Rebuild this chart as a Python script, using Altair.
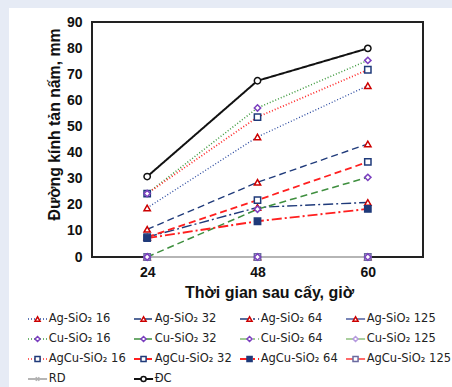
import altair as alt
import pandas as pd

times = ["24", "48", "60"]
series = ["Ag-SiO₂ 16", "Ag-SiO₂ 32", "Ag-SiO₂ 64", "Ag-SiO₂ 125",
          "Cu-SiO₂ 16", "Cu-SiO₂ 32", "Cu-SiO₂ 64", "Cu-SiO₂ 125",
          "AgCu-SiO₂ 16", "AgCu-SiO₂ 32", "AgCu-SiO₂ 64", "AgCu-SiO₂ 125",
          "RD", "ĐC"]

ag16 = [18.8, 46.0, 65.6]
ag32 = [10.6, 28.6, 43.3]
ag64 = [7.6, 19.0, 20.9]
ag125 = [0, 0, 0]
cu16 = [24.3, 57.1, 75.3]
cu32 = [0, 18.3, 30.5]
cu64 = [0, 0, 0]
cu125 = [0, 0, 0]
agcu16 = [24.3, 53.6, 71.7]
agcu32 = [7.6, 21.8, 36.4]
agcu64 = [7.2, 13.7, 18.4]
agcu125 = [0, 0, 0]
rd = [0, 0, 0]
dc = [30.8, 67.5, 79.9]

all_vals = [ag16, ag32, ag64, ag125, cu16, cu32, cu64, cu125,
            agcu16, agcu32, agcu64, agcu125, rd, dc]

# draw order of lines (RD first so the red zero line stays on top)
line_order = [12, 0, 1, 2, 3, 4, 5, 6, 7, 8, 9, 10, 11, 13]
# draw order of markers (purple diamond / blue square on top at zero)
mark_order = [12, 3, 7, 11, 0, 1, 2, 8, 9, 10, 4, 5, 6, 13]
rows = []
for i in range(len(series)):
    for t, v in zip(times, all_vals[i]):
        rows.append({"series": series[i], "time": t, "value": v,
                     "lord": line_order.index(i), "mord": mark_order.index(i)})
df = pd.DataFrame(rows)

leg = pd.DataFrame({"series": series, "idx": list(range(len(series)))})
leg["col"] = leg["idx"] % 4
leg["row"] = leg["idx"] // 4

# styles
line_colors = ["#2b4aa0", "#1f3a7a", "#1f3a7a", "#4d5ea0",
               "#3f9a3f", "#3f8f3f", "#7fb86f", "#8fc07f",
               "#ff2a2a", "#ff2020", "#ff2020", "#ff6a6a",
               "#b5b5b5", "#111111"]
dot, dash, dashdot, solid = [1, 2], [7, 4], [10, 3, 2, 3], [1, 0]
dashes = [dot, dash, dashdot, solid, dot, dash, dashdot, solid,
          dot, dash, dashdot, solid, solid, solid]
widths = [1.3, 2, 2, 1.5, 1.3, 2, 2, 1.5, 1.3, 2, 2, 1.5, 1.5, 2]
mk_stroke = ["#cc0000"] * 4 + ["#7b3fbf"] * 3 + ["#b69adf"] + \
            ["#1f3a7a"] * 3 + ["#6a6aa0"] + ["#b0b0b0", "#111111"]
mk_fill = ["white"] * 10 + ["#1f3a7a", "white", "white", "white"]
cross = "M-0.7,-0.7L0.7,0.7M-0.7,0.7L0.7,-0.7"
shapes = ["triangle-up"] * 4 + ["diamond"] * 4 + ["square"] * 4 + [cross, "circle"]

color_s = alt.Color("series:N", scale=alt.Scale(domain=series, range=line_colors), legend=None)
dash_s = alt.StrokeDash("series:N", scale=alt.Scale(domain=series, range=dashes), legend=None)
width_s = alt.StrokeWidth("series:N", scale=alt.Scale(domain=series, range=widths), legend=None)
stroke_s = alt.Stroke("series:N", scale=alt.Scale(domain=series, range=mk_stroke), legend=None)
fill_s = alt.Fill("series:N", scale=alt.Scale(domain=series, range=mk_fill), legend=None)
shape_s = alt.Shape("series:N", scale=alt.Scale(domain=series, range=shapes), legend=None)

W, H = 331, 235
FONT = "Liberation Sans"

xscale = alt.Scale(type="point", domain=times, padding=0.5)
yscale = alt.Scale(domain=[0, 90], nice=False, zero=True)
xaxis = alt.Axis(title="Thời gian sau cấy, giờ", labelAngle=0, ticks=False,
                 domain=False, grid=False, labelFont=FONT, labelFontWeight="bold",
                 labelFontSize=14, labelColor="#111", labelPadding=8,
                 titleFont=FONT, titleFontWeight="bold", titleFontSize=16,
                 titleColor="#111", titlePadding=5, titleX=177, zindex=1)
yaxis = alt.Axis(title="Đường kính tản nấm, mm", values=list(range(0, 91, 10)),
                 ticks=False, domain=False, grid=False, labelFont=FONT,
                 labelFontWeight="bold", labelFontSize=14, labelColor="#111",
                 labelPadding=10, titleFont=FONT, titleFontWeight="bold",
                 titleFontSize=15.8, titleColor="#111", titleX=-30, titleY=102,
                 titleAlign="center", titleBaseline="bottom", titleAngle=270,
                 zindex=1)

base = alt.Chart(df)
lines = base.mark_line().encode(
    x=alt.X("time:O", scale=xscale, axis=xaxis),
    y=alt.Y("value:Q", scale=yscale, axis=yaxis),
    color=color_s, strokeDash=dash_s, strokeWidth=width_s,
    order=alt.Order("lord:Q"),
)
points = base.mark_point(size=40, strokeWidth=1.5, opacity=1).encode(
    x=alt.X("time:O", scale=xscale, axis=xaxis),
    y=alt.Y("value:Q", scale=yscale, axis=yaxis),
    stroke=stroke_s, fill=fill_s, shape=shape_s,
    order=alt.Order("mord:Q"),
)
main = alt.layer(lines, points)

# legend drawn below the plot
lx0, cstep = 28 - 92, 106
ly0, rstep = 319 - 22, 20
lxs = alt.Scale(domain=[-lx0 / cstep, (W - lx0) / cstep], nice=False, zero=False)
lys = alt.Scale(domain=[-ly0 / rstep, (H - ly0) / rstep], nice=False, zero=False, reverse=True)
lbase = alt.Chart(leg).transform_calculate(
    x0="datum.col", x1="datum.col + 0.18", xm="datum.col + 0.09", xt="datum.col + 0.195")
lrule = lbase.mark_rule().encode(
    x=alt.X("x0:Q", scale=lxs, axis=None), x2="x1:Q",
    y=alt.Y("row:Q", scale=lys, axis=None),
    color=color_s, strokeDash=dash_s, strokeWidth=width_s)
lpt = lbase.mark_point(size=26, strokeWidth=1.5, opacity=1).encode(
    x=alt.X("xm:Q", scale=lxs, axis=None), y=alt.Y("row:Q", scale=lys, axis=None),
    stroke=stroke_s, fill=fill_s, shape=shape_s)
ltxt = lbase.mark_text(align="left", baseline="middle", font="DejaVu Sans",
                       fontSize=11.5, color="#222").encode(
    x=alt.X("xt:Q", scale=lxs, axis=None), y=alt.Y("row:Q", scale=lys, axis=None),
    text="series:N")
legend = alt.layer(lrule, lpt, ltxt)

one = alt.Data(values=[{"a": 1}])
bg = alt.Chart(one).mark_rect(color="white").encode(
    x=alt.value(-83), x2=alt.value(W + 40), y=alt.value(-14), y2=alt.value(H + 140))
frame = alt.Chart(one).mark_rect(filled=False, stroke="#222", strokeWidth=2).encode(
    x=alt.value(0), x2=alt.value(W), y=alt.value(0), y2=alt.value(H))

chart = alt.layer(bg, frame, main, legend).resolve_scale(
    x="independent", y="independent"
).properties(
    width=W, height=H,
    autosize=alt.AutoSizeParams(type="none"),
    padding={"left": 92, "top": 22, "right": 29, "bottom": 130},
    background="#e6ebf5",
).configure_view(stroke=None)

chart.save("out.html", embed_options={"renderer": "svg", "actions": False})
